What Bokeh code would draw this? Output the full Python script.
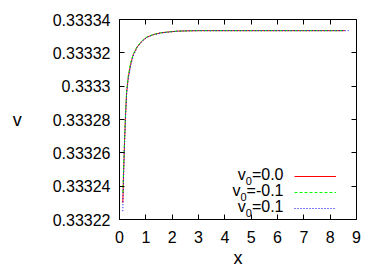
from bokeh.plotting import figure
from bokeh.models import (Range1d, FixedTicker, LinearAxis, Legend, LegendItem, Label)
from bokeh.embed import file_html
from bokeh.resources import INLINE

# ---- data ----
x_v00 = [0.125, 0.15, 0.19, 0.23, 0.27, 0.33, 0.42, 0.52, 0.67, 0.85, 1.05, 1.3,
         1.56, 1.9, 2.2, 2.6, 3.0, 3.5, 4.0, 5.0, 6.0, 7.0, 8.0, 8.55]
v_v00 = [0.33323, 0.333245, 0.333266, 0.333283, 0.333296, 0.333305, 0.333313,
         0.333319, 0.3333235, 0.333327, 0.3333295, 0.333331, 0.333332, 0.3333326,
         0.333333, 0.3333332, 0.3333333, 0.3333333, 0.3333333, 0.3333333,
         0.3333333, 0.3333333, 0.3333333, 0.3333333]
x_vm01 = [0.125, 0.15, 0.19, 0.23, 0.27, 0.33, 0.42, 0.52, 0.67, 0.85, 1.05, 1.3,
          1.56, 1.9, 2.2, 2.6, 3.0, 3.5, 4.0, 5.0, 6.0, 7.0, 8.0, 8.55]
v_vm01 = [0.333236, 0.333248, 0.333267, 0.333284, 0.333297, 0.333306, 0.333314,
          0.333319, 0.3333238, 0.3333272, 0.3333297, 0.3333311, 0.333332,
          0.3333326, 0.333333, 0.3333332, 0.3333333, 0.3333333, 0.3333333,
          0.3333333, 0.3333333, 0.3333333, 0.3333333, 0.3333333]
x_vp01 = [0.125, 0.15, 0.19, 0.23, 0.27, 0.33, 0.42, 0.52, 0.67, 0.85, 1.05, 1.3,
          1.56, 1.9, 2.2, 2.6, 3.0, 3.5, 4.0, 5.0, 6.0, 7.0, 8.0, 8.7]
v_vp01 = [0.333225, 0.333243, 0.333265, 0.333282, 0.333295, 0.333304, 0.333312,
          0.333318, 0.3333232, 0.3333268, 0.3333293, 0.3333309, 0.3333319,
          0.3333325, 0.333333, 0.3333332, 0.3333333, 0.3333333, 0.3333333,
          0.3333333, 0.3333333, 0.3333333, 0.3333333, 0.3333333]

x_ticks = [0, 1, 2, 3, 4, 5, 6, 7, 8, 9]
y_ticks = [0.33322, 0.33324, 0.33326, 0.33328, 0.3333, 0.33332, 0.33334]
y_tick_labels = ["0.33322", "0.33324", "0.33326", "0.33328", "0.3333", "0.33332", "0.33334"]
legend_values = ["0.0", "-0.1", "0.1"]
colors = ["#ff0000", "#00ff00", "#0000ff"]
dashes = ["solid", "3 2", "1 2"]

FONT = "Liberation Sans"

p = figure(frame_width=237, frame_height=200, output_backend="svg", toolbar_location=None,
           x_range=Range1d(0, 9), y_range=Range1d(0.33322, 0.33334),
           min_border_left=119, min_border_right=26, min_border_top=19,
           min_border_bottom=48)
p.background_fill_color = "white"
p.border_fill_color = "white"
p.outline_line_color = "#000000"
p.outline_line_width = 1
p.grid.visible = False

p.xaxis.ticker = FixedTicker(ticks=x_ticks)
p.yaxis.ticker = FixedTicker(ticks=y_ticks)
p.yaxis.major_label_overrides = {t: l for t, l in zip(y_ticks, y_tick_labels)}
for ax in [p.xaxis[0], p.yaxis[0]]:
    ax.axis_line_color = None
    ax.major_tick_in = 5
    ax.major_tick_out = 0
    ax.minor_tick_line_color = None
    ax.major_tick_line_color = "#000000"
    ax.major_label_text_font = FONT
    ax.major_label_text_font_size = "16px"
    ax.major_label_text_color = "#000000"
    ax.axis_label_text_font = FONT
    ax.axis_label_text_font_size = "18px"
    ax.axis_label_text_font_style = "normal"
    ax.axis_label_text_color = "#000000"
p.xaxis.axis_label = "x"
p.yaxis.axis_label = "v"
p.yaxis.axis_label_orientation = "horizontal"
p.xaxis.major_label_standoff = 11
p.yaxis.major_label_standoff = 9
p.xaxis.axis_label_standoff = 2
p.yaxis.axis_label_standoff = 28

# mirrored ticks (no labels)
top = LinearAxis(ticker=FixedTicker(ticks=x_ticks),
                 major_label_overrides={t: "" for t in x_ticks})
right = LinearAxis(ticker=FixedTicker(ticks=y_ticks),
                   major_label_overrides={t: "" for t in y_ticks})
for ax in [top, right]:
    ax.axis_line_color = None
    ax.major_tick_in = 5
    ax.major_tick_out = 0
    ax.minor_tick_line_color = None
    ax.major_label_standoff = 0
p.add_layout(top, "above")
p.add_layout(right, "right")

r1 = p.line(x_v00, v_v00, line_color=colors[0], line_width=1, line_dash=dashes[0])
r2 = p.line(x_vm01, v_vm01, line_color=colors[1], line_width=1, line_dash=dashes[1])
r3 = p.line(x_vp01, v_vp01, line_color=colors[2], line_width=1, line_dash=dashes[2])

legend = Legend(items=[LegendItem(label=" ", renderers=[r]) for r in (r1, r2, r3)],
                location=(175, 3), glyph_width=42, glyph_height=16, label_height=16,
                label_width=0, label_standoff=0, label_text_font_size="2px",
                spacing=0, padding=0, margin=0, border_line_color=None,
                background_fill_alpha=0)
p.add_layout(legend, "center")

# legend texts: "v" + subscript "0" + "=value", right aligned
em = {"=": 0.584, "0": 0.556, "1": 0.556, ".": 0.278, "-": 0.333}
x_right = 164
baselines = [45, 29, 13]
for val, yb in zip(legend_values, baselines):
    tail = "=" + val
    w_tail = sum(em[c] for c in tail) * 16
    w_sub = em["0"] * 11
    p.add_layout(Label(x=x_right, y=yb, x_units="screen", y_units="screen", text=tail,
                       text_align="right", text_baseline="alphabetic",
                       text_font=FONT, text_font_size="16px", text_color="#000000"))
    p.add_layout(Label(x=x_right - w_tail, y=yb - 6, x_units="screen", y_units="screen",
                       text="0", text_align="right", text_baseline="alphabetic",
                       text_font=FONT, text_font_size="11px", text_color="#000000"))
    p.add_layout(Label(x=x_right - w_tail - w_sub, y=yb, x_units="screen", y_units="screen",
                       text="v", text_align="right", text_baseline="alphabetic",
                       text_font=FONT, text_font_size="16px", text_color="#000000"))

open("out.html", "w").write(file_html(p, INLINE))
